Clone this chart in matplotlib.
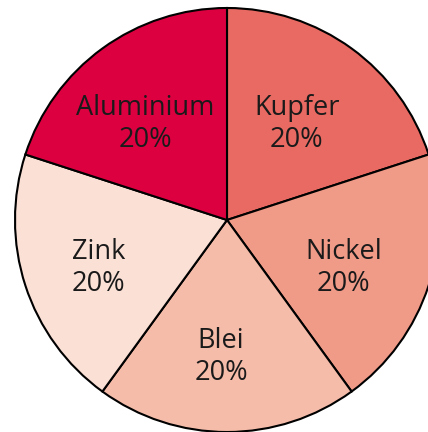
import matplotlib.pyplot as plt
import numpy as np

names = ['Kupfer', 'Nickel', 'Blei', 'Zink', 'Aluminium']
shares = [20, 20, 20, 20, 20]
colors = ['#e86a62', '#f09a88', '#f6bcaa', '#fbe0d6', '#dc0040']

fig = plt.figure(figsize=(4.28, 4.32), dpi=100)
ax = fig.add_axes([0, 0, 1, 1])

wedges, _ = ax.pie(shares, colors=colors, startangle=90, counterclock=False,
                   radius=1.0, wedgeprops=dict(edgecolor='black', linewidth=1.5))

# labels inside each wedge, a bit left and down of the radial spot
for w, name, s in zip(wedges, names, shares):
    ang = np.deg2rad((w.theta1 + w.theta2) / 2)
    r = 0.607
    ax.text(r * np.cos(ang) - 0.028, r * np.sin(ang) - 0.038, f'{name}\n{s}%',
            ha='center', va='center', fontsize=19.5, family='Open Sans',
            color='#1a1a1a', linespacing=1.2)

# pie is clipped at right and bottom in the original
ax.set_xlim(-227 / 212, 201 / 212)
ax.set_ylim(-212 / 212, 220 / 212)
ax.set_aspect('auto')
ax.axis('off')

fig.savefig('out.png', dpi=100)
